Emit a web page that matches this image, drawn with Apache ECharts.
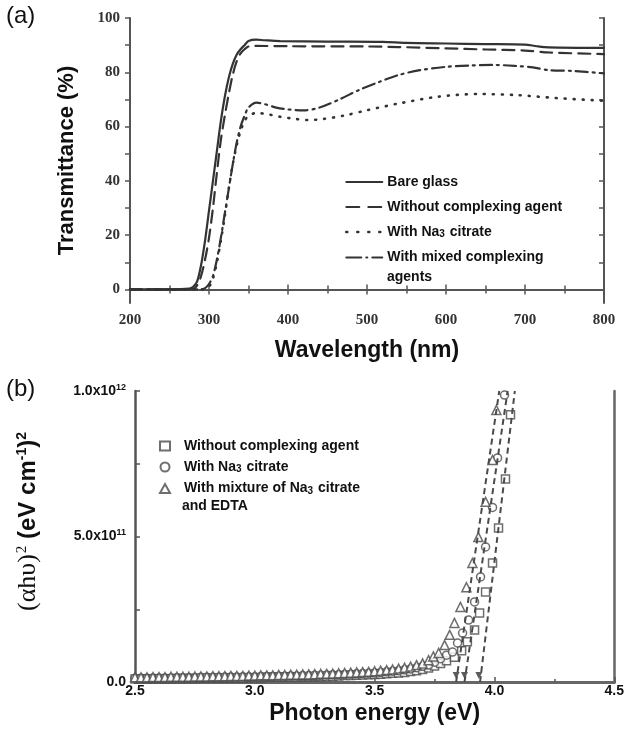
<!DOCTYPE html>
<html>
<head>
<meta charset="utf-8">
<script src="https://cdn.jsdelivr.net/npm/echarts@6.0.0/dist/echarts.min.js"></script>
<style>
  html, body { margin: 0; padding: 0; background: #fff; }
  #main { width: 627px; height: 737px; }
</style>
</head>
<body>
<div id="main"></div>
<script>
// panel (a): transmittance spectra, [wavelength nm, T %]
const bareGlass = [[200,0],[250,0],[275,0.3],[280,1],[285,3],[290,9],[295,18],[300,29],[305,40],[310,51],[315,62],[320,71],[325,78],[330,83],[335,86.5],[340,88.5],[345,90],[350,91.5],[360,92],[370,91.8],[390,91.5],[450,91.3],[520,91.2],[550,90.8],[600,90.6],[650,90.4],[700,90.2],[715,89.6],[730,89.2],[800,89]];
const noAgent = [[200,0],[250,0],[280,0.2],[285,1.5],[290,5],[295,11],[300,19],[305,30],[310,43],[315,55],[320,64],[325,72],[330,79],[335,84],[340,87],[345,88.5],[350,89.5],[360,89.7],[400,89.6],[500,89.5],[540,89.3],[600,88.8],[650,88.4],[700,88],[730,87.3],[800,86.7]];
const naCitrate = [[200,0],[250,0],[290,0],[295,0.3],[300,1],[305,4],[310,10],[315,18],[320,27],[325,37],[330,46],[335,53],[340,58.5],[345,62],[350,64],[360,65],[375,64.5],[390,63.6],[410,62.8],[425,62.4],[445,62.8],[470,64],[500,66],[540,68.5],[590,71],[640,72],[690,71.6],[740,70.5],[800,69.5]];
const mixedAgents = [[200,0],[250,0],[290,0],[295,0.5],[300,2],[305,5],[310,11],[315,19],[320,28],[325,37],[330,46],[335,54],[340,60],[345,64],[350,67],[360,68.8],[370,68.3],[385,67],[400,66.3],[420,66],[440,67],[465,70],[490,73.5],[516,76.5],[540,79],[567,80.8],[600,82],[630,82.5],[660,82.7],[690,82.3],[710,81.8],[730,80.8],[760,80.5],[800,79.6]];

const wlTicks = [0, 20, 40, 60, 80, 100];
const wlMinorTicks = [0, 10, 20, 30, 40, 50, 60, 70, 80, 90, 100];

// panel (b): (alpha h nu)^2 in units of 1e12 vs photon energy eV
const baseEnergy = [2.500, 2.525, 2.550, 2.575, 2.600, 2.625, 2.650, 2.675, 2.700, 2.725, 2.750, 2.775, 2.800, 2.825, 2.850, 2.875, 2.900, 2.925, 2.950, 2.975, 3.000, 3.025, 3.050, 3.075, 3.100, 3.125, 3.150, 3.175, 3.200, 3.225, 3.250, 3.275, 3.300, 3.325, 3.350, 3.375, 3.400, 3.425, 3.450, 3.475, 3.500, 3.525, 3.550, 3.575, 3.600, 3.625, 3.650, 3.675, 3.700];
const squareBase = [.010,.010,.010,.011,.011,.011,.011,.012,.012,.012, .012,.013,.013,.013,.013,.014,.014,.014,.014,.015, .015,.015,.016,.016,.016,.017,.017,.017,.018,.018, .019,.019,.020,.020,.021,.022,.022,.023,.024,.025, .026,.027,.028,.030,.031,.033,.036,.039,.043];
const circleBase = [.013,.013,.013,.014,.014,.014,.014,.015,.015,.015, .015,.016,.016,.016,.016,.017,.017,.017,.018,.018, .018,.019,.019,.019,.020,.020,.021,.021,.022,.022, .023,.023,.024,.025,.025,.026,.027,.028,.029,.030, .031,.033,.035,.037,.039,.042,.045,.049,.054];
const triangleBase = [.016,.016,.016,.017,.017,.017,.018,.018,.018,.018, .019,.019,.019,.020,.020,.020,.021,.021,.021,.022, .022,.023,.023,.023,.024,.024,.025,.025,.026,.026, .027,.028,.028,.029,.030,.031,.032,.033,.034,.035, .037,.039,.041,.043,.046,.049,.053,.058,.064];
const squareRise = [[3.725,.048],[3.75,.055],[3.775,.064],[3.80,.073],[3.833,.085],[3.863,.107],[3.887,.138],[3.917,.179],[3.938,.237],[3.963,.309],[3.992,.409],[4.017,.529],[4.046,.698],[4.067,.918]];
const circleRise = [[3.725,.058],[3.75,.068],[3.775,.080],[3.80,.092],[3.825,.103],[3.846,.134],[3.867,.168],[3.892,.213],[3.917,.275],[3.942,.361],[3.963,.464],[3.992,.60],[4.013,.77],[4.042,.986]];
const triangleRise = [[3.725,.075],[3.745,.088],[3.767,.10],[3.792,.127],[3.813,.162],[3.833,.203],[3.858,.258],[3.883,.326],[3.908,.409],[3.933,.498],[3.963,.619],[3.992,.763],[4.008,.935]];
const squareFit = [[3.94,0],[4.085,1]];
const circleFit = [[3.875,0],[4.055,1]];
const triangleFit = [[3.84,0],[4.02,1]];
const bandGaps = [3.84, 3.875, 3.935];

const energyTicks = [0, 0.5, 1];
const energyMinorTicks = [0, 0.25, 0.5, 0.75, 1];

const SANS = 'Liberation Sans';
const SERIF = 'Liberation Serif';
const INK = '#333';

const dashA = {
    solid: 'solid',
    dashed: [12, 7],
    dotted: [1, 8],
    dashDot: [12, 5, 2, 5]
};

const chart = echarts.init(document.getElementById('main'), null, {renderer: 'canvas'});

const subRich = {
    sub: {fontSize: 10, fontWeight: 'bold', fontFamily: SANS, color: '#111', verticalAlign: 'bottom', padding: [5, 1, 0, 0]}
};
const naFormat = name => name.replace('Na3', 'Na{sub|3}');

const lineA = (name, data, type, width) => ({
    name: name, type: 'line', xAxisIndex: 0, yAxisIndex: 0,
    data: data, symbol: 'none', smooth: 0.3,
    lineStyle: {color: INK, width: width || 2, type: type, cap: 'round'},
    itemStyle: {color: INK}
});

const scatterB = (name, symbol, size, data) => ({
    name: name, type: 'scatter', xAxisIndex: 2, yAxisIndex: 2,
    data: data, symbol: symbol, symbolSize: size,
    itemStyle: {color: '#fff', borderColor: '#4a4a4a', borderWidth: 1.5}
});

const fitB = data => ({
    type: 'line', xAxisIndex: 2, yAxisIndex: 2, data: data,
    symbol: 'none', silent: true,
    lineStyle: {color: '#4a4a4a', width: 2, type: [6, 4]}
});

const boxAxis = (grid, pos, min, max) => ({
    type: 'value', gridIndex: grid, position: pos, min: min, max: max,
    axisLine: {show: true, lineStyle: {color: '#555', width: 2}},
    axisTick: {show: false}, axisLabel: {show: false}, splitLine: {show: false}
});

let option = {
    animation: false,
    backgroundColor: '#fff',
    grid: [
        {left: 130, right: 23, top: 18, bottom: 434},
        {left: 135, right: 10, top: 391, bottom: 55}
    ],
    legend: [
        {
            data: [
                {name: 'Bare glass', lineStyle: {type: dashA.solid}},
                {name: 'Without complexing agent', lineStyle: {type: [13, 9]}},
                {name: 'With Na3 citrate', lineStyle: {type: [1, 10], cap: 'round', width: 2.6}},
                {name: 'With mixed complexing', lineStyle: {type: [15, 5, 1, 5]}}
            ],
            orient: 'vertical', left: 340, top: 170, itemGap: 11,
            itemWidth: 36, itemHeight: 12,
            itemStyle: {opacity: 0},
            formatter: naFormat,
            textStyle: {fontFamily: SANS, fontWeight: 'bold', fontSize: 14, color: '#111', rich: subRich}
        },
        {
            data: ['Without complexing agent ', 'With Na3 citrate ', 'With mixture of Na3 citrate'],
            orient: 'vertical', left: 154, top: 434, itemGap: 7,
            itemWidth: 10, itemHeight: 9,
            formatter: naFormat,
            textStyle: {fontFamily: SANS, fontWeight: 'bold', fontSize: 14, color: '#111', padding: [0, 0, 0, 9], rich: subRich}
        }
    ],
    graphic: [
        {type: 'text', left: 6, top: 4, style: {text: '(a)', font: '24px "Liberation Sans"', fill: '#111'}},
        {type: 'text', left: 6, top: 377, style: {text: '(b)', font: '24px "Liberation Sans"', fill: '#111'}},
        {type: 'text', left: 387, top: 270, style: {text: 'agents', font: 'bold 14px "Liberation Sans"', fill: '#111'}},
        {type: 'text', left: 182, top: 499, style: {text: 'and EDTA', font: 'bold 14px "Liberation Sans"', fill: '#111'}}
    ],
    xAxis: [
        {
            type: 'value', gridIndex: 0, min: 200, max: 800, interval: 100,
            name: 'Wavelength (nm)', nameLocation: 'middle', nameGap: 36,
            nameTextStyle: {fontFamily: SANS, fontWeight: 'bold', fontSize: 23, color: '#111'},
            axisLine: {lineStyle: {color: '#555', width: 2}},
            axisTick: {inside: true, length: 5, lineStyle: {color: '#555', width: 1.5}},
            minorTick: {show: true, splitNumber: 2, length: 4, lineStyle: {color: '#555', width: 1.5}},
            axisLabel: {fontFamily: SERIF, fontWeight: 'bold', fontSize: 15, color: INK, margin: 10},
            splitLine: {show: false}
        },
        Object.assign(boxAxis(0, 'top', 200, 800), {interval: 100,
            axisTick: {show: true, inside: true, length: 5, lineStyle: {color: '#555', width: 1.5}},
            minorTick: {show: true, splitNumber: 2, length: 4, lineStyle: {color: '#555', width: 1.5}}}),
        {
            type: 'value', gridIndex: 1, min: 2.5, max: 4.5, interval: 0.5,
            name: 'Photon energy (eV)', nameLocation: 'middle', nameGap: 20,
            nameTextStyle: {fontFamily: SANS, fontWeight: 'bold', fontSize: 23, color: '#111'},
            axisLine: {lineStyle: {color: '#555', width: 2.5}},
            axisTick: {inside: true, length: 5, lineStyle: {color: '#555', width: 1.5}},
            minorTick: {show: true, splitNumber: 2, length: 3, lineStyle: {color: '#555', width: 1.5}},
            axisLabel: {fontFamily: SANS, fontWeight: 'bold', fontSize: 14, color: '#111', margin: 2,
                formatter: v => v.toFixed(1)},
            splitLine: {show: false}
        },
        Object.assign(boxAxis(1, 'top', 2.5, 4.5), {axisLine: {show: true, lineStyle: {color: '#666', width: 3}}})
    ],
    yAxis: [
        {
            type: 'value', gridIndex: 0, min: -5, max: 100,
            name: 'Transmittance (%)', nameLocation: 'middle', nameGap: 52,
            nameTextStyle: {fontFamily: SANS, fontWeight: 'bold', fontSize: 22, color: '#111'},
            axisLine: {show: true, lineStyle: {color: '#555', width: 2}},
            axisTick: {show: true, length: 5, customValues: wlMinorTicks, lineStyle: {color: '#555', width: 1.5}},
            axisLabel: {fontFamily: SERIF, fontWeight: 'bold', fontSize: 15, color: INK, margin: 10, customValues: wlTicks},
            splitLine: {show: false}
        },
        Object.assign(boxAxis(0, 'right', -5, 100), {
            axisTick: {show: true, inside: true, length: 5, customValues: wlMinorTicks, lineStyle: {color: '#555', width: 1.5}}}),
        {
            type: 'value', gridIndex: 1, min: 0, max: 1,
            name: '{s|(αhυ)}{ss|2}{b| (eV cm}{bs|-1}{b|)}{bs|2}', nameLocation: 'middle', nameGap: 94,
            nameTextStyle: {
                padding: [0, 0, 0, 30],
                rich: {
                    s: {fontFamily: SERIF, fontSize: 26, color: '#111'},
                    ss: {fontFamily: SERIF, fontSize: 15, color: '#111', verticalAlign: 'top', padding: [0, 0, 10, 1]},
                    b: {fontFamily: SANS, fontWeight: 'bold', fontSize: 24, color: '#111'},
                    bs: {fontFamily: SANS, fontWeight: 'bold', fontSize: 14, color: '#111', verticalAlign: 'top', padding: [0, 0, 9, 0]}
                }
            },
            axisLine: {show: true, lineStyle: {color: '#555', width: 2.5}},
            axisTick: {show: true, inside: true, length: 5, customValues: energyMinorTicks, lineStyle: {color: '#555', width: 1.5}},
            axisLabel: {
                fontFamily: SANS, fontWeight: 'bold', fontSize: 14, color: '#111', margin: 9,
                customValues: energyTicks,
                formatter: v => v === 0 ? '0.0' : (v === 1 ? '1.0x10{sup|12}' : '5.0x10{sup|11}'),
                rich: {sup: {fontFamily: SANS, fontWeight: 'bold', fontSize: 9, color: '#111', verticalAlign: 'top', padding: [0, 0, 7, 0]}}
            },
            splitLine: {show: false}
        },
        Object.assign(boxAxis(1, 'right', 0, 1), {axisLine: {show: true, lineStyle: {color: '#666', width: 2.5}}})
    ],
    series: [
        lineA('Bare glass', bareGlass, dashA.solid, 2.2),
        lineA('Without complexing agent', noAgent, dashA.dashed, 2.2),
        lineA('With Na3 citrate', naCitrate, dashA.dotted, 2.6),
        lineA('With mixed complexing', mixedAgents, dashA.dashDot, 2.2),
        fitB(squareFit),
        fitB(circleFit),
        fitB(triangleFit),
        scatterB('Without complexing agent ', 'rect', 8,
            baseEnergy.map((e, i) => [e, squareBase[i]]).concat(squareRise)),
        scatterB('With Na3 citrate ', 'circle', 8,
            baseEnergy.map((e, i) => [e, circleBase[i]]).concat(circleRise)),
        scatterB('With mixture of Na3 citrate', 'triangle', 9,
            baseEnergy.map((e, i) => [e, triangleBase[i]]).concat(triangleRise)),
        {
            type: 'scatter', xAxisIndex: 2, yAxisIndex: 2, silent: true,
            data: bandGaps.map(e => [e, 0.022]),
            symbol: 'triangle', symbolRotate: 180, symbolSize: 7,
            itemStyle: {color: '#333'}
        }
    ]
};

chart.setOption(option);
</script>
</body>
</html>
